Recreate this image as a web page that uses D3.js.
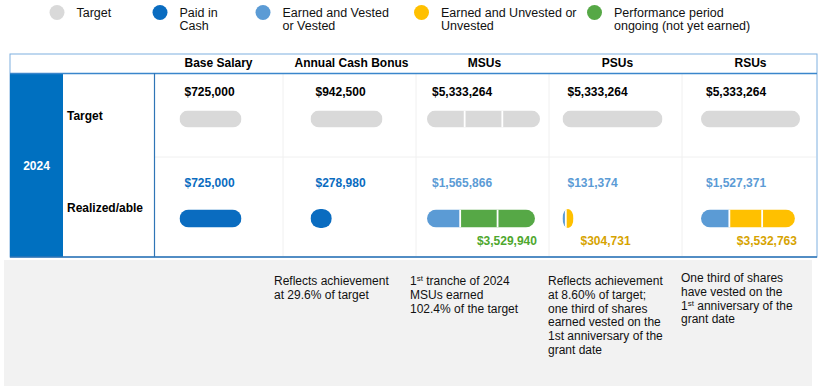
<!DOCTYPE html>
<html>
<head>
<meta charset="utf-8">
<script src="https://cdn.jsdelivr.net/npm/d3@7"></script>
<style>
body { margin: 0; background: #fff; }
text { font-family: "Liberation Sans", Arial, sans-serif; }
</style>
</head>
<body>
<svg id="chart" width="820" height="388"></svg>
<script>
var w = 820;
var h = 388;

// data
var columns = ["Base Salary", "Annual Cash Bonus", "MSUs", "PSUs", "RSUs"];
var targetValues = [725000, 942500, 5333264, 5333264, 5333264];
var targetTranches = [1, 1, 3, 1, 1];
var realizedFirst = [725000, 278980, 1565866, 131374, 1527371];
var firstStatus = ["paid", "paid", "vested", "vested", "vested"];
var realizedSecond = [0, 0, 3529940, 304731, 3532763];
var secondStatus = [null, null, "ongoing", "unvested", "unvested"];
var secondTranches = [0, 0, 2, 1, 2];
var year = "2024";
var rowLabels = ["Target", "Realized/able"];
var legendKeys = ["target", "paid", "vested", "unvested", "ongoing"];
var legendLabels = [["Target"], ["Paid in", "Cash"], ["Earned and Vested", "or Vested"],
                    ["Earned and Unvested or", "Unvested"], ["Performance period", "ongoing (not yet earned)"]];
var notes = [
    [],
    ["Reflects achievement", "at 29.6% of target"],
    ["1^st tranche of 2024", "MSUs earned", "102.4% of the target"],
    ["Reflects achievement", "at 8.60% of target;", "one third of shares", "earned vested on the",
     "1st anniversary of the", "grant date"],
    ["One third of shares", "have vested on the", "1^st anniversary of the", "grant date"]
];

// layout
var targetWidths = [62, 72, 113, 100, 99];
var barShift = [-8, -5, -1, -5, 0];
var noteShift = [0, -11, -8, -3, -3];
var legendX = [57, 160, 263, 421.5, 594.5];
var barH = 17;
var minBar = 11;
var fill = {target: "#d9d9d9", paid: "#0a6cc0", vested: "#5b9bd5", unvested: "#ffc000", ongoing: "#56a846"};
var ink = {paid: "#0a6cc0", vested: "#5b9bd5", unvested: "#d6a300", ongoing: "#4ea72e"};

var svg = d3.select("#chart");

var x = d3.scaleBand()
    .domain(columns)
    .range([152, 817]);

// legend
var leg = svg.selectAll("g.legend")
    .data(legendKeys)
    .enter()
    .append("g")
    .attr("class", "legend")
    .attr("transform", function(d, i) { return "translate(" + legendX[i] + ",12.5)"; });
leg.append("circle")
    .attr("r", 7.5)
    .attr("fill", function(d) { return fill[d]; });
leg.each(function(d, i) {
    d3.select(this).selectAll("text")
        .data(legendLabels[i])
        .enter()
        .append("text")
        .attr("x", 19.5)
        .attr("y", function(t, j) { return 4 + j * 13.5; })
        .attr("font-size", "12.5px")
        .attr("fill", "#111")
        .text(function(t) { return t; });
});

// notes band
svg.append("rect")
    .attr("x", 4).attr("y", 260)
    .attr("width", 808).attr("height", 126)
    .attr("fill", "#f2f2f2");

// table frame
svg.append("rect")
    .attr("x", 10).attr("y", 54)
    .attr("width", 807).attr("height", 203)
    .attr("fill", "#fff")
    .attr("stroke", "#7fb0e0")
    .attr("stroke-width", 1);

// faint grid
svg.append("line")
    .attr("x1", 154).attr("x2", 816)
    .attr("y1", 157).attr("y2", 157)
    .attr("stroke", "#f0f0f0");
svg.selectAll("line.vgrid")
    .data(columns.slice(1))
    .enter()
    .append("line")
    .attr("class", "vgrid")
    .attr("x1", function(d) { return x(d) - 2; })
    .attr("x2", function(d) { return x(d) - 2; })
    .attr("y1", 74).attr("y2", 256)
    .attr("stroke", "#f0f0f0");

svg.append("rect")
    .attr("x", 10).attr("y", 73)
    .attr("width", 53).attr("height", 184)
    .attr("fill", "#0070c0");
svg.append("line")
    .attr("x1", 10).attr("x2", 817)
    .attr("y1", 73.5).attr("y2", 73.5)
    .attr("stroke", "#3a86cc").attr("stroke-width", 1.5);
svg.append("line")
    .attr("x1", 10).attr("x2", 817)
    .attr("y1", 257).attr("y2", 257)
    .attr("stroke", "#2e75b6").attr("stroke-width", 1.5);
svg.append("line")
    .attr("x1", 154.5).attr("x2", 154.5)
    .attr("y1", 73).attr("y2", 257)
    .attr("stroke", "#2e75b6").attr("stroke-width", 1.2);

svg.append("text")
    .attr("x", 36.5).attr("y", 170)
    .attr("text-anchor", "middle")
    .attr("font-size", "12px").attr("font-weight", "bold")
    .attr("fill", "#fff")
    .text(year);

svg.selectAll("text.rowlabel")
    .data(rowLabels)
    .enter()
    .append("text")
    .attr("class", "rowlabel")
    .attr("x", 67)
    .attr("y", function(d, i) { return i === 0 ? 120 : 212; })
    .attr("font-size", "12px").attr("font-weight", "bold")
    .attr("fill", "#000")
    .text(function(d) { return d; });

svg.selectAll("text.header")
    .data(columns)
    .enter()
    .append("text")
    .attr("class", "header")
    .attr("x", function(d) { return x(d) + x.bandwidth() / 2; })
    .attr("y", 67)
    .attr("text-anchor", "middle")
    .attr("font-size", "12px").attr("font-weight", "bold")
    .attr("fill", "#000")
    .text(function(d) { return d; });

var fmt = function(v) { return "$" + d3.format(",")(v); };
var defs = svg.append("defs");
var clipN = 0;

function pill(x0, cy, width, segs, hh) {
    var id = "clip" + (clipN++);
    defs.append("clipPath").attr("id", id)
        .append("rect")
        .attr("x", x0).attr("y", cy - hh / 2)
        .attr("width", width).attr("height", hh)
        .attr("rx", Math.min(hh / 2, width / 2)).attr("ry", hh / 2);
    var g = svg.append("g").attr("clip-path", "url(#" + id + ")");
    var pos = x0;
    segs.forEach(function(s, k) {
        g.append("rect")
            .attr("x", pos).attr("y", cy - hh / 2)
            .attr("width", s.w).attr("height", hh)
            .attr("fill", s.color);
        if (k > 0) {
            g.append("line")
                .attr("x1", pos).attr("x2", pos)
                .attr("y1", cy - hh / 2).attr("y2", cy + hh / 2)
                .attr("stroke", "#fff").attr("stroke-width", 1.8);
        }
        pos += s.w;
    });
    return pos;
}

columns.forEach(function(c, i) {
    var tw = targetWidths[i];
    var x0 = x(c) + x.bandwidth() / 2 + barShift[i] - tw / 2;
    var s = d3.scaleLinear().domain([0, targetValues[i]]).range([0, tw]);

    // target row
    svg.append("text")
        .attr("x", x0 + 5).attr("y", 96)
        .attr("font-size", "12px").attr("font-weight", "bold")
        .attr("fill", "#000")
        .text(fmt(targetValues[i]));
    var tseg = d3.range(targetTranches[i]).map(function() {
        return {w: tw / targetTranches[i], color: fill.target};
    });
    pill(x0, 119, tw, tseg, barH);

    // realized row
    svg.append("text")
        .attr("x", x0 + 5).attr("y", 187)
        .attr("font-size", "12px").attr("font-weight", "bold")
        .attr("fill", ink[firstStatus[i]])
        .text(fmt(realizedFirst[i]));
    var total = s(realizedFirst[i]) + s(realizedSecond[i]);
    var k0 = total < minBar ? minBar / total : 1;
    var rseg = [{w: s(realizedFirst[i]) * k0, color: fill[firstStatus[i]]}];
    for (var k = 0; k < secondTranches[i]; k++) {
        rseg.push({w: s(realizedSecond[i]) * k0 / secondTranches[i], color: fill[secondStatus[i]]});
    }
    var hh = total < 30 ? 19 : 18;
    var end = pill(x0, 218.5, total * k0, rseg, hh);

    if (realizedSecond[i] > 0) {
        var narrow = total < 40;
        svg.append("text")
            .attr("x", narrow ? end + 7 : end + 2)
            .attr("y", 245)
            .attr("text-anchor", narrow ? "start" : "end")
            .attr("font-size", "12px").attr("font-weight", "bold")
            .attr("fill", ink[secondStatus[i]])
            .text(fmt(realizedSecond[i]));
    }

    // notes
    var t = svg.append("text")
        .attr("font-size", "12px")
        .attr("fill", "#111");
    notes[i].forEach(function(line, j) {
        var ly = (i === 4 ? 282 : 285) + j * 13.8;
        var xx = x(c) + noteShift[i];
        var parts = line.split("^st");
        if (parts.length > 1) {
            t.append("tspan").attr("x", xx).attr("y", ly).text(parts[0]);
            t.append("tspan").attr("dy", -4).attr("font-size", "8px").text("st");
            t.append("tspan").attr("dy", 4).text(parts[1]);
        } else {
            t.append("tspan").attr("x", xx).attr("y", ly).text(line);
        }
    });
});
</script>
</body>
</html>
